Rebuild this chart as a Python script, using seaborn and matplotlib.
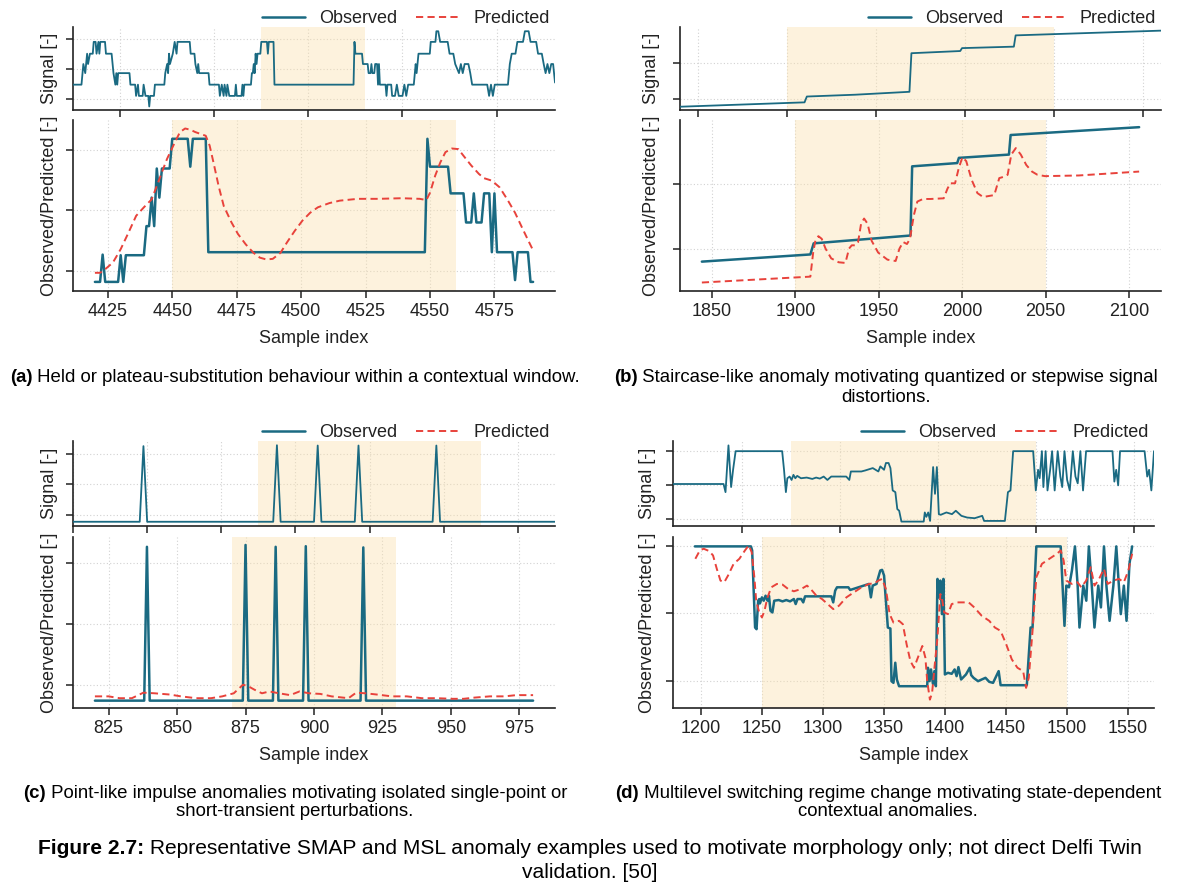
import matplotlib
matplotlib.use("Agg")
import matplotlib.pyplot as plt
import seaborn as sns
from matplotlib.lines import Line2D
from matplotlib.ticker import MultipleLocator

sns.set_theme(style="ticks")
plt.rcParams['font.family'] = ['Liberation Sans', 'DejaVu Sans']

OBS = '#1a6a82'
PRED = '#e8423b'
SHADE = '#fbe1ae'
INK = '#222222'

# ---------------- data (sample index, value) ----------------
# (a) held / plateau substitution
a_ctx = [(4250, 0.48), (4259, 0.48), (4261, 1.16), (4263, 0.86), (4265, 1.50), (4266, 1.16), (4268, 1.50),
         (4271, 1.50), (4272, 1.89), (4274, 1.89), (4275, 1.50), (4277, 1.89), (4278, 1.50), (4279, 1.89),
         (4284, 1.89), (4285, 1.50), (4291, 1.50), (4293, 0.86), (4295, 0.48), (4296, 0.86), (4297, 0.48),
         (4298, 0.86), (4310, 0.86), (4311, 0.48), (4316, 0.48), (4317, 0.11), (4319, 0.48), (4320, 0.11),
         (4324, 0.11), (4325, 0.48), (4327, 0.11), (4330, 0.11), (4331, -0.24), (4332, 0.11), (4336, 0.11),
         (4337, 0.48), (4347, 0.48), (4348, 0.86), (4350, 1.16), (4351, 0.86), (4352, 1.50), (4353, 1.16),
         (4356, 1.50), (4358, 1.89), (4360, 1.50), (4361, 1.89), (4374, 1.89), (4375, 1.50), (4379, 1.50),
         (4380, 1.16), (4382, 0.86), (4383, 1.16), (4384, 0.86), (4394, 0.86), (4395, 0.48), (4405, 0.48),
         (4406, 0.11), (4408, 0.48), (4410, 0.11), (4411, 0.48), (4413, 0.11), (4414, 0.48), (4416, 0.11),
         (4422, 0.11), (4423, 0.48), (4424, 0.11), (4429, 0.11), (4430, 0.48), (4431, 0.11), (4432, 0.48),
         (4439, 0.48), (4440, 0.86), (4441, 0.86), (4442, 1.16), (4443, 0.86), (4444, 1.50), (4445, 1.16),
         (4446, 1.50), (4449, 1.50), (4450, 1.89), (4456, 1.89), (4457, 1.50), (4458, 1.89), (4463, 1.89),
         (4464, 0.48), (4548, 0.48), (4549, 1.89), (4550, 1.50), (4557, 1.50), (4558, 1.16), (4563, 1.16),
         (4564, 0.86), (4566, 0.86), (4567, 1.16), (4568, 0.86), (4570, 0.86), (4571, 1.16), (4573, 1.16),
         (4574, 0.48), (4575, 1.16), (4576, 0.48), (4582, 0.48), (4583, 0.11), (4584, 0.48), (4588, 0.48),
         (4589, 0.11), (4592, 0.11), (4594, 0.48), (4596, 0.11), (4600, 0.11), (4602, 0.48), (4604, 0.11),
         (4606, 0.48), (4612, 0.48), (4614, 1.16), (4615, 0.86), (4617, 1.50), (4629, 1.50), (4630, 1.89),
         (4635, 1.89), (4636, 2.24), (4638, 2.24), (4640, 1.89), (4648, 1.89), (4650, 1.50), (4654, 1.50),
         (4656, 1.16), (4660, 0.86), (4662, 1.16), (4664, 0.86), (4666, 1.16), (4670, 1.16), (4672, 0.86),
         (4674, 0.48), (4690, 0.48), (4692, 0.11), (4694, 0.48), (4696, 0.11), (4698, 0.48), (4712, 0.48),
         (4714, 1.16), (4716, 1.50), (4720, 1.50), (4722, 1.89), (4728, 1.89), (4730, 2.24), (4734, 2.24),
         (4736, 1.89), (4742, 1.89), (4744, 1.50), (4748, 1.50), (4750, 1.16), (4752, 0.86), (4754, 1.16),
         (4756, 0.86), (4758, 1.16), (4760, 1.16), (4762, 0.55)]
a_obs = [(4420, -0.18), (4422, -0.18), (4423, 0.27), (4424, -0.18), (4429, -0.18), (4430, 0.26), (4431, -0.18),
         (4432, 0.26), (4439, 0.26), (4440, 0.74), (4441, 0.74), (4442, 1.21), (4443, 0.74), (4444, 1.69),
         (4445, 1.21), (4446, 1.69), (4449, 1.69), (4450, 2.18), (4456, 2.18), (4457, 1.72), (4458, 2.18),
         (4463, 2.18), (4464, 0.31), (4548, 0.31), (4549, 2.18), (4550, 1.72), (4557, 1.72), (4558, 1.28),
         (4563, 1.28), (4564, 0.80), (4566, 0.80), (4567, 1.28), (4568, 0.80), (4570, 0.80), (4571, 1.28),
         (4573, 1.28), (4574, 0.31), (4575, 1.28), (4576, 0.31), (4582, 0.31), (4583, -0.15), (4584, 0.31),
         (4588, 0.31), (4589, -0.18), (4590, -0.18)]
a_pred = [(4420, -0.03), (4422, -0.03), (4424, 0.03), (4427, 0.14), (4430, 0.36), (4433, 0.63), (4436, 0.91),
          (4439, 1.05), (4442, 1.18), (4444, 1.40), (4446, 1.63), (4448, 1.85), (4451, 2.12), (4453, 2.29),
          (4455, 2.35), (4457, 2.33), (4459, 2.29), (4463, 2.23), (4464.5, 2.07), (4466, 1.79), (4468, 1.40),
          (4470, 1.07), (4473, 0.80), (4475.5, 0.61), (4478.5, 0.44), (4481.5, 0.30), (4484, 0.22),
          (4486.5, 0.19), (4489, 0.20), (4492, 0.30), (4494.5, 0.47), (4497.5, 0.66), (4500.5, 0.83),
          (4503.5, 0.96), (4506.5, 1.05), (4511, 1.12), (4515, 1.16), (4522, 1.19), (4530, 1.19), (4539, 1.20),
          (4546, 1.19), (4548.6, 1.17), (4550, 1.29), (4552, 1.57), (4554, 1.79), (4556, 1.96), (4558.5, 2.02),
          (4561, 2.01), (4563, 1.90), (4566, 1.74), (4569, 1.60), (4571, 1.53), (4574, 1.49), (4577, 1.38),
          (4580, 1.18), (4583, 0.96), (4586, 0.69), (4588.5, 0.47), (4590, 0.34)]
a_window = (4450, 4560)

# (b) staircase
b_ctx = [(1840, -0.21), (1909.9, -0.09), (1911.2, 0.07), (1938.3, 0.12), (1968.8, 0.20), (1969.9, 1.26),
         (1997.3, 1.32), (1998.3, 1.40), (2027.4, 1.44), (2028.4, 1.75), (2110, 1.88)]
b_obs = [(1844, -0.19), (1909, -0.08), (1911, 0.09), (1969, 0.21), (1970, 1.27), (1997, 1.32), (1998, 1.40),
         (2028, 1.45), (2029, 1.75), (2106, 1.87)]
b_pred = [(1844, -0.51), (1909, -0.42), (1910.7, -0.05), (1912, 0.13), (1913.8, 0.20), (1915.8, 0.16),
          (1918.1, 0.01), (1921.5, -0.14), (1926, -0.20), (1930, -0.21), (1932.2, 0.01), (1933.8, 0.06),
          (1936, 0.06), (1937.6, 0.11), (1939.4, 0.39), (1941.2, 0.47), (1943.3, 0.39), (1945.7, 0.13),
          (1949.6, -0.05), (1955.2, -0.16), (1960.1, -0.18), (1962.4, 0.01), (1964.6, 0.11), (1966.9, 0.08),
          (1968.7, 0.16), (1971.0, 0.52), (1973.1, 0.73), (1976.5, 0.77), (1981.0, 0.77), (1988.9, 0.78),
          (1991.2, 0.93), (1992.9, 1.01), (1995.7, 1.01), (1997.9, 1.24), (2000.1, 1.41), (2002.4, 1.35),
          (2005.7, 1.06), (2009.1, 0.86), (2012.5, 0.80), (2019.2, 0.83), (2022.2, 1.09), (2024.9, 1.11),
          (2027.2, 1.14), (2029.4, 1.45), (2032.1, 1.55), (2035.1, 1.45), (2038.4, 1.29), (2041.8, 1.19),
          (2045.1, 1.14), (2049.6, 1.12), (2069.8, 1.13), (2106, 1.19)]
b_window = (1900, 2050)

# (c) impulses
c_ctx = [(820, -0.24), (838, -0.24), (839, 2.26), (840, -0.24), (874, -0.24), (875, 2.29), (876, -0.24),
         (885, -0.24), (886, 2.28), (887, -0.24), (896, -0.24), (897, 2.28), (898, -0.24), (917, -0.24),
         (918, 2.28), (919, -0.24), (950, -0.24)]
c_obs = [(820, -0.25), (838, -0.25), (839, 2.26), (840, -0.25), (874, -0.25), (875, 2.29), (876, -0.25),
         (885, -0.25), (886, 2.26), (887, -0.25), (896, -0.25), (897, 2.27), (898, -0.25), (917, -0.25),
         (918, 2.25), (919, -0.25), (980, -0.25)]
c_pred = [(820, -0.18), (825, -0.18), (829, -0.21), (833.5, -0.21), (837.7, -0.12), (841.8, -0.13),
          (844.5, -0.14), (847.3, -0.15), (851.4, -0.18), (856.9, -0.21), (862.4, -0.21), (866.5, -0.18),
          (870.7, -0.13), (874.1, 0.01), (876.2, -0.02), (878.2, -0.07), (881, -0.13), (883.7, -0.10),
          (887.2, -0.13), (891.3, -0.16), (894.7, -0.10), (898.2, -0.13), (902.3, -0.14), (906.4, -0.18),
          (912.6, -0.21), (915.4, -0.12), (918.8, -0.13), (922.9, -0.15), (928.4, -0.18), (933.9, -0.18),
          (939.4, -0.21), (944.9, -0.21), (950.4, -0.22), (954.6, -0.22), (958.7, -0.20), (964.2, -0.18),
          (969.7, -0.18), (973.8, -0.16), (980, -0.16)]
c_window = (870, 930)

# (d) multilevel switching
d_ctx = [(1130, 1.03), (1181.5, 1.03), (1183.5, 0.79), (1186.5, 2.17), (1189.2, 0.94), (1191.2, 1.45),
         (1193.8, 2.0), (1241.2, 2.0), (1243.1, 1.45), (1245, 0.79), (1246.5, 1.2), (1248.8, 1.25),
         (1250.8, 1.15), (1252.7, 1.30), (1254.6, 1.20), (1256.5, 1.27), (1260.4, 1.20), (1266.2, 1.22),
         (1271.9, 1.18), (1275.8, 1.22), (1279.6, 1.19), (1283.5, 1.25), (1287.3, 1.15), (1291.2, 1.25),
         (1306.5, 1.25), (1309.6, 1.15), (1311.2, 1.40), (1321.9, 1.40), (1325.8, 1.43), (1333.5, 1.50),
         (1339.2, 1.40), (1341.2, 1.55), (1345, 1.45), (1346.9, 1.65), (1349.6, 1.65), (1351.5, 1.50),
         (1353.8, 0.84), (1356.5, 0.79), (1358.5, 0.29), (1360.4, 0.24), (1362.7, -0.08), (1385.4, -0.08),
         (1386.5, 0.19), (1388.1, 0.06), (1390, 0.19), (1391.9, -0.06), (1395, 1.53), (1396.9, 0.74),
         (1398.8, 1.53), (1400.8, 0.14), (1402.7, 0.12), (1408.5, 0.19), (1414.2, 0.14), (1418.1, 0.24),
         (1423.8, 0.09), (1429.6, 0.04), (1437.3, 0.02), (1445, 0.09), (1446.9, -0.06), (1468.1, -0.06),
         (1471.2, 0.79), (1473.8, 0.84), (1476.5, 2.0), (1496.9, 2.0), (1499.6, 0.84), (1501.9, 1.45),
         (1503.5, 1.20), (1505.8, 2.0), (1507.3, 0.94), (1509.6, 2.0), (1511.5, 0.84), (1514.2, 1.45),
         (1516.2, 2.0), (1518.8, 0.84), (1521.9, 2.0), (1524.6, 1.25), (1526.5, 0.94), (1528.8, 2.0),
         (1531.5, 1.15), (1534.2, 0.84), (1537.3, 2.0), (1540, 1.25), (1542.3, 1.05), (1545, 2.0),
         (1547.7, 0.84), (1550.8, 2.0), (1577.7, 2.0), (1579.6, 1.10), (1581.5, 1.45), (1583.5, 0.99),
         (1585.4, 2.0), (1610.4, 2.0), (1613.1, 1.25), (1615, 1.45), (1617.3, 0.84), (1620, 2.0)]
d_obs = [(1195, 2.0), (1241, 2.0), (1242, 1.94), (1244.4, 0.79), (1245.6, 0.765), (1246.9, 1.19),
         (1247.8, 1.215), (1248.4, 1.15), (1250, 1.24), (1251.5, 1.19), (1253, 1.265), (1254.6, 1.19),
         (1255.8, 1.265), (1257, 1.04), (1258.6, 1.015), (1260.1, 1.19), (1263.8, 1.20), (1266.9, 1.18),
         (1270, 1.20), (1273.1, 1.18), (1276.2, 1.215), (1277.7, 1.14), (1279.2, 1.215), (1282.3, 1.215),
         (1283.9, 1.165), (1285.4, 1.255), (1307, 1.255), (1308.5, 1.165), (1310.1, 1.34), (1311.6, 1.39),
         (1320.9, 1.39), (1322.4, 1.35), (1337.8, 1.44), (1339.4, 1.24), (1340.9, 1.415), (1344, 1.44),
         (1345.5, 1.54), (1347.1, 1.64), (1348.6, 1.65), (1350.2, 1.565), (1353.3, 0.79), (1355.4, 0.775),
         (1356.3, -0.01), (1357.9, -0.035), (1359.4, 0.265), (1360.7, 0.015), (1362.5, -0.085),
         (1385.6, -0.085), (1386.2, 0.19), (1387.5, -0.01), (1388.7, 0.165), (1390.3, -0.05), (1391.5, 0.14),
         (1392.7, -0.085), (1394, 1.515), (1395.2, 1.24), (1396.4, 1.49), (1397.7, 0.99), (1398.9, 1.515),
         (1400.1, 0.09), (1402.6, 0.115), (1405.7, 0.10), (1408.1, 0.165), (1409.7, 0.065), (1411.2, 0.20),
         (1413.4, 0.015), (1417.4, 0.09), (1420.5, 0.19), (1421.7, 0.08), (1423.6, 0.04), (1427.3, -0.01),
         (1430.3, 0.015), (1433.4, 0.04), (1436.5, -0.02), (1439.6, -0.035), (1444.2, 0.14), (1445.8, -0.07),
         (1467.3, -0.07), (1470.4, 0.79), (1472, 0.79), (1475.1, 2.0), (1495.1, 2.0), (1498.2, 0.815),
         (1499.7, 1.415), (1501.9, 1.39), (1504.3, 1.64), (1506.8, 2.0), (1509, 1.415), (1510.5, 0.79),
         (1513.6, 1.415), (1516.1, 1.19), (1518.2, 2.0), (1520.7, 1.39), (1522.8, 0.79), (1525.9, 1.415),
         (1528.1, 1.09), (1530.6, 2.0), (1532.7, 1.39), (1535.2, 0.89), (1538.3, 1.415), (1540.7, 2.0),
         (1542.9, 1.39), (1544.4, 0.99), (1546.9, 1.415), (1549.1, 0.89), (1551.5, 1.74), (1553.7, 2.0)]
d_pred = [(1195.4, 1.815), (1199.1, 1.94), (1202.2, 1.965), (1206.8, 1.93), (1209.9, 1.865), (1213, 1.665),
          (1216, 1.49), (1219.1, 1.465), (1222.2, 1.565), (1226.8, 1.74), (1231.5, 1.815), (1236.1, 1.94),
          (1239.2, 2.015), (1241.6, 1.915), (1243.8, 1.54), (1245.3, 1.19), (1247.8, 1.015), (1250, 0.94),
          (1252.1, 1.04), (1254.6, 1.24), (1257.7, 1.39), (1262.3, 1.44), (1266.9, 1.43), (1271.5, 1.365),
          (1276.2, 1.33), (1282.3, 1.365), (1287, 1.415), (1290, 1.365), (1294.7, 1.265), (1299.3, 1.215),
          (1303.9, 1.14), (1308.5, 1.065), (1313.2, 1.115), (1319.3, 1.24), (1325.5, 1.315), (1331.7, 1.39),
          (1337.8, 1.44), (1342.5, 1.45), (1345.5, 1.49), (1348.6, 1.515), (1351.7, 1.365), (1354.8, 0.99),
          (1357.9, 0.865), (1362.5, 0.89), (1365.6, 0.84), (1368.7, 0.54), (1371.8, 0.29), (1374.8, 0.19),
          (1377.9, 0.34), (1381.6, 0.515), (1384.1, 0.34), (1385.6, -0.01), (1387.8, -0.285), (1389.6, -0.185),
          (1391.8, 0.24), (1394, 0.64), (1396.4, 1.29), (1398, 1.19), (1399.5, 1.015), (1402.6, 0.99),
          (1405.7, 1.14), (1410.3, 1.165), (1414.9, 1.165), (1419.6, 1.165), (1424.2, 1.09), (1430.3, 0.965),
          (1436.5, 0.89), (1441.1, 0.79), (1445.8, 0.74), (1450.4, 0.54), (1455, 0.315), (1459.6, 0.19),
          (1464.3, 0.14), (1466.7, -0.11), (1468.9, 0.04), (1472, 0.74), (1475.1, 1.54), (1479.7, 1.74),
          (1485.8, 1.815), (1492, 1.89), (1495.1, 1.94), (1497.5, 1.79), (1499.7, 1.49), (1504.3, 1.44),
          (1508.9, 1.465), (1512, 1.39), (1516, 1.49), (1519.7, 1.69), (1522.8, 1.415), (1525.9, 1.49),
          (1530.6, 1.665), (1533.6, 1.44), (1538.3, 1.49), (1542.9, 1.515), (1546.9, 1.465), (1550.6, 1.64),
          (1553.7, 1.89)]
d_window = (1250, 1500)

captions = [
    ("(a)", [" Held or plateau-substitution behaviour within a contextual window."]),
    ("(b)", [" Staircase-like anomaly motivating quantized or stepwise signal", "distortions."]),
    ("(c)", [" Point-like impulse anomalies motivating isolated single-point or", "short-transient perturbations."]),
    ("(d)", [" Multilevel switching regime change motivating state-dependent", "contextual anomalies."]),
]
fig_caption = ("Figure 2.7:", [" Representative SMAP and MSL anomaly examples used to motivate morphology only; not direct Delfi Twin",
                               "validation. [50]"])

# ---------------- layout ----------------
W, H = 1181, 886
fig = plt.figure(figsize=(W / 100, H / 100), dpi=100)


def rect(x0, x1, y0, y1):
    return [x0 / W, 1 - y1 / H, (x1 - x0) / W, (y1 - y0) / H]


panels = [
    dict(ctx=a_ctx, obs=a_obs, pred=a_pred, win=a_window,
         top=rect(73, 555, 27, 110), bot=rect(73, 555, 120, 291), lpad=5.5,
         top_step=100, bot_step=25, top_ylim=(-0.355, 2.38), bot_ylim=(-0.33, 2.49),
         top_ticks=[0, 1, 2], bot_ticks=[0, 1, 2]),
    dict(ctx=b_ctx, obs=b_obs, pred=b_pred, win=b_window,
         top=rect(680, 1161, 27, 110), bot=rect(680, 1161, 120, 291), lpad=9.5,
         top_step=50, bot_step=50, top_ylim=(-0.30, 1.98), bot_ylim=(-0.64, 1.98),
         top_ticks=[0, 1], bot_ticks=[0, 1]),
    dict(ctx=c_ctx, obs=c_obs, pred=c_pred, win=c_window,
         top=rect(73, 555, 441, 526), bot=rect(73, 555, 537, 708), lpad=5.5,
         top_step=20, bot_step=25, top_ylim=(-0.38, 2.43), bot_ylim=(-0.37, 2.42),
         top_ticks=[0, 1, 2], bot_ticks=[0, 1, 2]),
    dict(ctx=d_ctx, obs=d_obs, pred=d_pred, win=d_window,
         top=rect(673, 1154, 441, 526), bot=rect(673, 1154, 537, 708), lpad=7,
         top_step=100, bot_step=50, top_ylim=(-0.21, 2.30), bot_ylim=(-0.41, 2.14),
         top_ticks=[0, 1, 2], bot_ticks=[0, 1, 2]),
]


def style_axes(ax):
    sns.despine(ax=ax)
    for s in ("left", "bottom"):
        ax.spines[s].set_color(INK)
        ax.spines[s].set_linewidth(1.2)
    ax.tick_params(axis="both", colors=INK, length=5, width=1.1, labelsize=13, labelcolor=INK)
    ax.grid(True, linestyle=(0, (1, 2)), color="#d2d2d2", linewidth=0.8)
    ax.set_axisbelow(True)


def split(pairs):
    return [p[0] for p in pairs], [p[1] for p in pairs]


for p in panels:
    at = fig.add_axes(p["top"])
    ab = fig.add_axes(p["bot"])
    for ax in (at, ab):
        style_axes(ax)
        ax.axvspan(*p["win"], color=SHADE, alpha=0.42, lw=0, zorder=0.8)

    cx, cy = split(p["ctx"])
    sns.lineplot(x=cx, y=cy, ax=at, color=OBS, linewidth=1.3, sort=False, estimator=None, zorder=3)
    at.set_xlim(min(cx), max(cx))
    at.set_ylim(*p["top_ylim"])
    at.set_yticks(p["top_ticks"])
    at.xaxis.set_major_locator(MultipleLocator(p["top_step"]))
    at.tick_params(labelbottom=False, labelleft=False)
    at.set_ylabel("Signal [-]", fontsize=13, color=INK, labelpad=p["lpad"])
    at.set_xlabel("")

    ox, oy = split(p["obs"])
    px, py = split(p["pred"])
    sns.lineplot(x=ox, y=oy, ax=ab, color=OBS, linewidth=1.8, sort=False, estimator=None, zorder=3)
    sns.lineplot(x=px, y=py, ax=ab, color=PRED, linewidth=1.4, sort=False, estimator=None, zorder=4,
                 dashes=False, linestyle=(0, (3.7, 2.2)))
    ab.set_ylim(*p["bot_ylim"])
    ab.set_yticks(p["bot_ticks"])
    ab.xaxis.set_major_locator(MultipleLocator(p["bot_step"]))
    ab.tick_params(labelleft=False)
    ab.set_ylabel("Observed/Predicted [-]", fontsize=13, color=INK, labelpad=p["lpad"])
    ab.set_xlabel("Sample index", fontsize=13, color=INK, labelpad=7.5)

    handles = [Line2D([0], [0], color=OBS, lw=1.8),
               Line2D([0], [0], color=PRED, lw=1.4, linestyle=(0, (3.7, 2.2)))]
    at.legend(handles, ["Observed", "Predicted"], ncol=2, frameon=False, fontsize=13,
              loc="lower right", bbox_to_anchor=(0.993, 0.98), borderaxespad=0.0, borderpad=0.1,
              handlelength=2.4, handletextpad=0.8, columnspacing=1.0, labelcolor=INK)

# ---------------- captions ----------------
renderer = fig.canvas.get_renderer()


def rich_line(xc, yc, bold, normal, size):
    parts = []
    if bold:
        parts.append(fig.text(0, 1 - yc / H, bold, fontsize=size, fontweight="bold", color="black",
                              ha="left", va="center"))
    parts.append(fig.text(0, 1 - yc / H, normal, fontsize=size, color="black", ha="left", va="center"))
    widths = [t.get_window_extent(renderer).width for t in parts]
    x = xc - sum(widths) / 2
    for t, w in zip(parts, widths):
        t.set_x(x / W)
        x += w


cap_pos = [(295, 378), (886, 378), (295, 793), (888, 793)]
for (bold, lines), (xc, yc) in zip(captions, cap_pos):
    rich_line(xc, yc, bold, lines[0], 13.4)
    for k, extra in enumerate(lines[1:], start=1):
        rich_line(xc, yc + 19 * k, None, extra, 13.4)

rich_line(590, 848, fig_caption[0], fig_caption[1][0], 15.1)
rich_line(590, 872, None, fig_caption[1][1], 15.1)

fig.savefig("out.png", dpi=100)
